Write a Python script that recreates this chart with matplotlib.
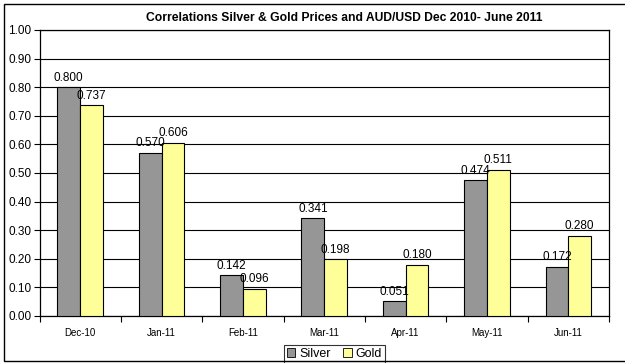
import matplotlib.pyplot as plt
import numpy as np
from matplotlib.patches import Patch, Rectangle

plt.rcParams['font.family'] = ['Liberation Sans', 'DejaVu Sans']

# data
months = ['Dec-10', 'Jan-11', 'Feb-11', 'Mar-11', 'Apr-11', 'May-11', 'Jun-11']
silver = [0.800, 0.570, 0.142, 0.341, 0.051, 0.474, 0.172]
gold = [0.737, 0.606, 0.096, 0.198, 0.180, 0.511, 0.280]
y_ticks = np.arange(0, 1.01, 0.1)

silver_color = '#969696'
gold_color = '#FFFF99'

fig = plt.figure(figsize=(6.25, 3.63), dpi=100)
ax = fig.add_axes([0.0632, 0.1295, 0.9112, 0.7879])

x = np.arange(len(months))
w = 0.28
b1 = ax.bar(x - w / 2, silver, w, color=silver_color, edgecolor='black', linewidth=0.8, zorder=3)
b2 = ax.bar(x + w / 2, gold, w, color=gold_color, edgecolor='black', linewidth=0.8, zorder=3)

for bars, vals in [(b1, silver), (b2, gold)]:
    for r, v in zip(bars, vals):
        ax.annotate(f'{v:.3f}', (r.get_x() + r.get_width() / 2, v),
                    xytext=(0, 2.5), textcoords='offset points',
                    ha='center', va='bottom', fontsize=8.5, zorder=4)

ax.set_xlim(-0.5, len(months) - 0.5)
ax.set_ylim(0, 1.0)
ax.set_yticks(y_ticks)
ax.set_yticklabels([f'{t:.2f}' for t in y_ticks], fontsize=8.5)
ax.grid(axis='y', color='black', linewidth=0.8, zorder=1)

# category labels between boundary tick marks
ax.set_xticks(np.arange(-0.5, len(months)), minor=False)
ax.set_xticklabels([])
ax.set_xticks(x, minor=True)
ax.set_xticklabels(months, minor=True, fontsize=7)
ax.tick_params(axis='x', which='minor', length=0, pad=9)
ax.tick_params(axis='x', which='major', length=4, width=0.8, direction='out')
ax.tick_params(axis='y', length=4, width=0.8, direction='out', pad=2)
for s in ax.spines.values():
    s.set_linewidth(0.9)

fig.text(0.55, 0.951, 'Correlations Silver & Gold Prices and AUD/USD Dec 2010- June 2011',
         ha='center', va='center', fontsize=8.7, fontweight='bold')

handles = [Patch(facecolor=silver_color, edgecolor='black', linewidth=0.6, label='Silver'),
           Patch(facecolor=gold_color, edgecolor='black', linewidth=0.6, label='Gold')]
leg = fig.legend(handles=handles, loc='upper center', bbox_to_anchor=(0.535, 1 - 345 / 363), ncol=2,
                 fontsize=9, frameon=True, fancybox=False, handlelength=0.7, handleheight=0.7,
                 handletextpad=0.3, columnspacing=1.0, borderpad=0.25, borderaxespad=0)
leg.get_frame().set_edgecolor('black')
leg.get_frame().set_linewidth(0.8)

# outer chart border
fig.patches.append(Rectangle((4 / 625, 2 / 363), 1.0, 357 / 363, transform=fig.transFigure,
                             fill=False, edgecolor='black', linewidth=1.0, zorder=10))

fig.savefig('out.png', dpi=100)
